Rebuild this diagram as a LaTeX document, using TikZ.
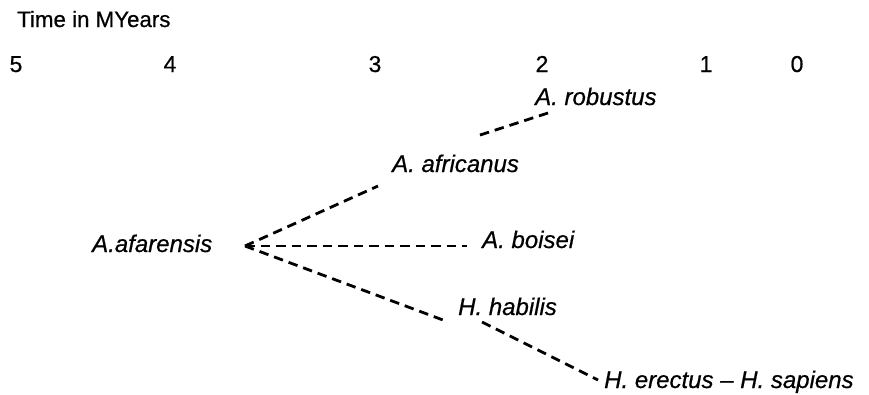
\documentclass[tikz,border=0pt]{standalone}
\usepackage{fontspec}
\setmainfont[FakeBold=0.6]{Liberation Sans}
\begin{document}
\begin{tikzpicture}[x=1pt,y=-1pt,
  hdr/.style={inner sep=0pt,anchor=base west,font=\fontsize{22.3}{24}\selectfont},
  num/.style={inner sep=0pt,anchor=base,font=\fontsize{23}{24}\selectfont},
  lbl/.style={inner sep=0pt,anchor=base west,font=\fontsize{24}{28}\selectfont\itshape},
  dline/.style={line width=2.8pt,dash pattern=on 9.5pt off 6pt}]
\useasboundingbox (0,0) rectangle (869,394);
\node[hdr] (title) at (17,27) {Time in MYears};
\node[num] (n5) at (16,72) {5};
\node[num] (n4) at (170,72) {4};
\node[num] (n3) at (375,72) {3};
\node[num] (n2) at (542,72) {2};
\node[num] (n1) at (706,72) {1};
\node[num] (n0) at (797,72) {0};
\node[lbl] (rob) at (535,105) {A. robustus};
\node[lbl] (afr) at (392,172) {A. africanus};
\node[lbl] (afa) at (92,252) {A.afarensis};
\node[lbl] (boi) at (482,248) {A. boisei};
\node[lbl] (hab) at (458,315) {H. habilis};
\node[lbl] (ere) at (604,388) {H. erectus -- H. sapiens};
\coordinate (apex) at (245,246);
\coordinate (robS) at (548,113);
\coordinate (robE) at (477,136);
\coordinate (afrE) at (378,186);
\coordinate (boiE) at (467,246);
\coordinate (habE) at (443,320);
\coordinate (habS) at (482,322);
\coordinate (ereE) at (598,380);
\draw[dline] (robS) -- (robE);
\draw[dline] (apex) -- (afrE);
\draw[dline] (apex) -- (boiE);
\draw[dline] (apex) -- (habE);
\draw[dline] (habS) -- (ereE);
\end{tikzpicture}
\end{document}
